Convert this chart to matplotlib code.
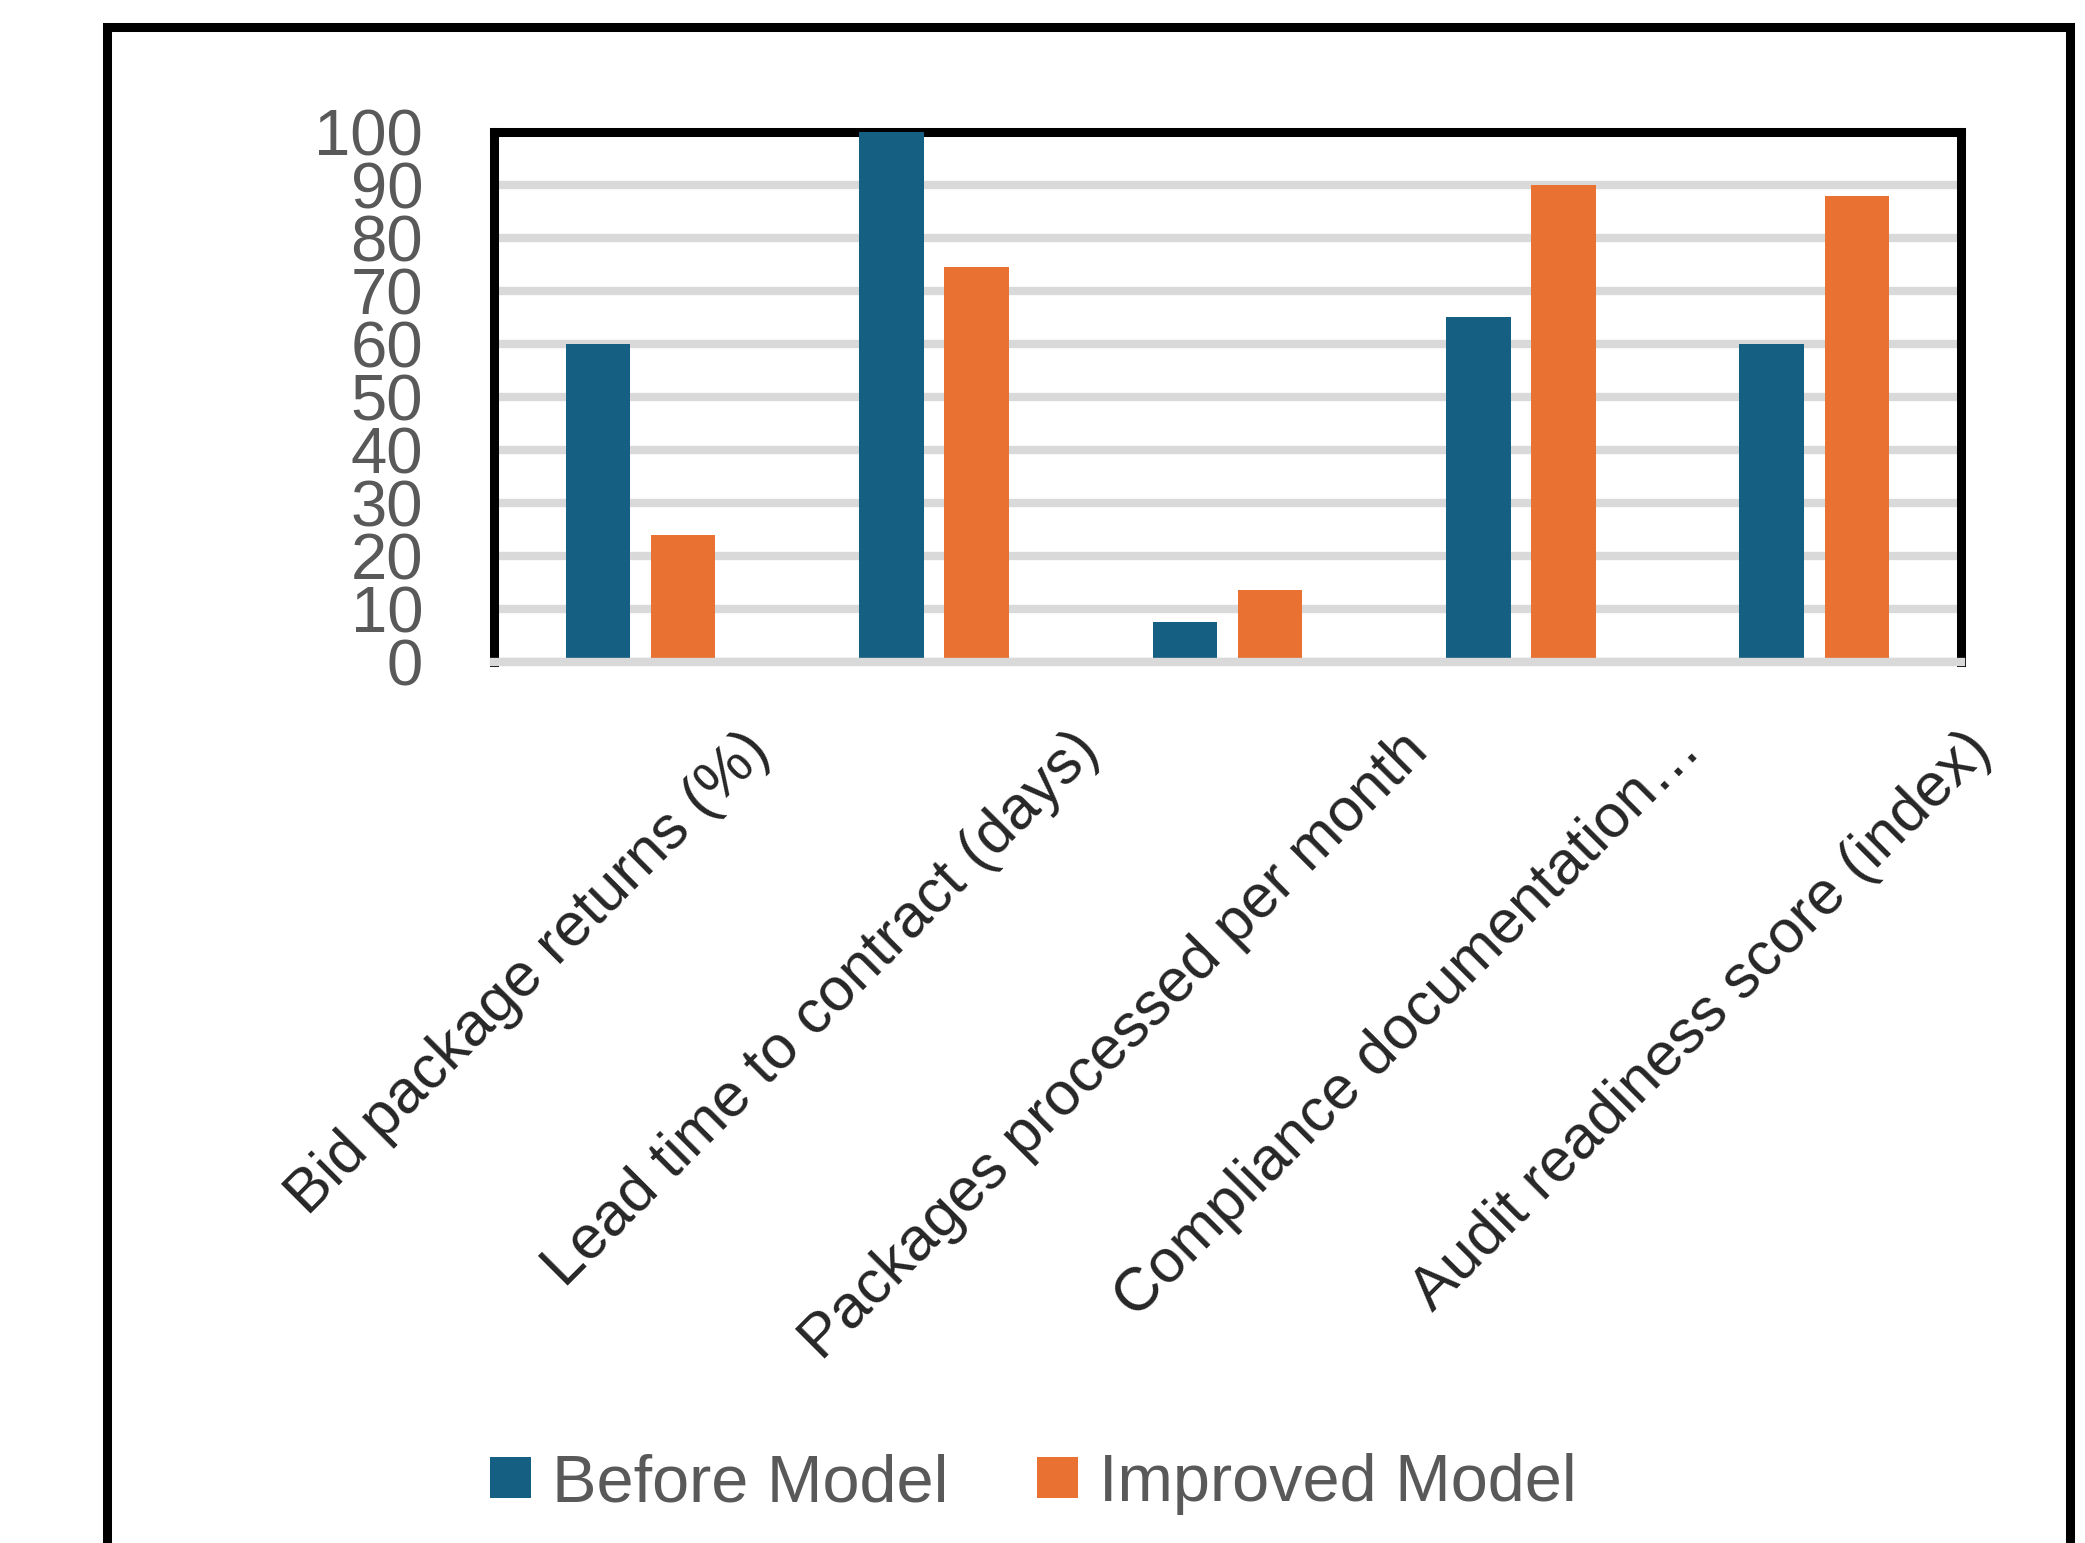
import numpy as np
import matplotlib.pyplot as plt
from matplotlib.lines import Line2D
from matplotlib.transforms import ScaledTranslation

plt.rcParams['font.family'] = ['Liberation Sans', 'DejaVu Sans']

# KPI values per category
categories = ['Bid package returns (%)', 'Lead time to contract (days)',
              'Packages processed per month', 'Compliance documentation…',
              'Audit readiness score (index)']
before = [60, 100, 7.5, 65, 60]
improved = [24, 74.5, 13.5, 90, 88]
series_names = ['Before Model', 'Improved Model']
yticks = np.arange(0, 101, 10)

blue = '#156082'
orange = '#E97132'
grid_gray = '#D9D9D9'
text_gray = '#595959'

fig = plt.figure(figsize=(20.85, 15.43), dpi=100)
ax = fig.add_axes([0.2369, 0.571, 0.7036, 0.3435])

x = np.arange(len(categories))
w = 0.22
ax.bar(x - 0.145, before, w, color=blue, label=series_names[0], zorder=3)
ax.bar(x + 0.145, improved, w, color=orange, label=series_names[1], zorder=3)

ax.set_xlim(-0.5, len(categories) - 0.5)
ax.set_ylim(0, 100)
ax.set_yticks(yticks)
ax.yaxis.grid(True, color=grid_gray, linewidth=6)
ax.set_axisbelow(True)

# thick black frame on three sides, grey baseline over the bar feet
for side in ['top', 'left', 'right']:
    ax.spines[side].set_linewidth(6.5)
    ax.spines[side].set_color('black')
ax.spines['bottom'].set_color(grid_gray)
ax.spines['bottom'].set_linewidth(6)
ax.spines['bottom'].set_zorder(4)

ax.tick_params(axis='y', length=0, pad=51, labelsize=47, labelcolor=text_gray)
ax.tick_params(axis='x', length=0, pad=43)
ax.set_xticks(x)
ax.set_xticklabels(categories, rotation=45, ha='center', va='top',
                   fontsize=44, color='#262626')
shift = ScaledTranslation(-1.12, 0, fig.dpi_scale_trans)
for lab in ax.get_xticklabels():
    lab.set_transform(lab.get_transform() + shift)

ax.legend(loc='center', bbox_to_anchor=(0.4955, 0.0382),
          bbox_transform=fig.transFigure, ncol=2, frameon=False,
          fontsize=48, handlelength=0.615, handleheight=0.59,
          handletextpad=0.315, columnspacing=1.33, labelcolor=text_gray)

# outer border (open at the bottom)
fig.add_artist(Line2D([0.0513, 0.0513, 0.9928, 0.9928],
                      [-0.02, 0.9822, 0.9822, -0.02],
                      transform=fig.transFigure, color='black',
                      linewidth=6.5, solid_joinstyle='miter'))

fig.savefig('out.png', dpi=100)
